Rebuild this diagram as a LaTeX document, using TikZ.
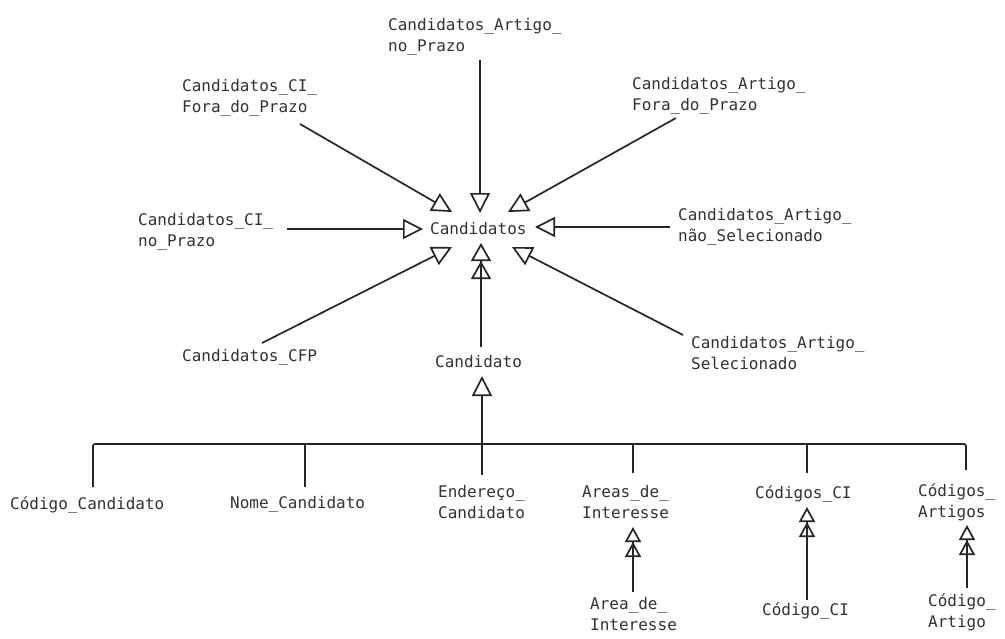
\documentclass[tikz,border=0pt]{standalone}
\usepackage{fontspec}
\newfontfamily\plotfont{DejaVu Sans Mono}
\usetikzlibrary{arrows.meta,calc}
\definecolor{ink}{HTML}{262626}
\definecolor{txt}{HTML}{333333}
\begin{document}
\begin{tikzpicture}[x=1pt,y=-1pt,
  lbl/.style={anchor=north west,inner sep=0pt,align=left,text=txt,font=\plotfont\fontsize{16}{21}\selectfont},
  con/.style={draw=ink,line width=1.7pt},
  tri/.style={con,-{Triangle[open,length=20pt 0,width=20pt 0]}},
  dtri/.style={con,-{Triangle[open,length=18pt 0,width=20pt 0,sep=0pt]Triangle[open,length=18pt 0,width=20pt 0]}},
  stri/.style={con,-{Triangle[open,length=15pt 0,width=16pt 0,sep=0pt]Triangle[open,length=15pt 0,width=16pt 0]}}]
\useasboundingbox[fill=white] (0,0) rectangle (1005,638);

% labels
\node[lbl] (topN)    at (388,18)  {Candidatos\_Artigo\_\\no\_Prazo};
\node[lbl] (ciFora)  at (182,79)  {Candidatos\_CI\_\\Fora\_do\_Prazo};
\node[lbl] (aFora)   at (632,77)  {Candidatos\_Artigo\_\\Fora\_do\_Prazo};
\node[lbl] (ciNo)    at (138,213) {Candidatos\_CI\_\\no\_Prazo};
\node[lbl] (cand)    at (430,222) {Candidatos};
\node[lbl] (aNao)    at (678,208) {Candidatos\_Artigo\_\\não\_Selecionado};
\node[lbl] (cfp)     at (182,349) {Candidatos\_CFP};
\node[lbl] (aSel)    at (691,336) {Candidatos\_Artigo\_\\Selecionado};
\node[lbl] (cato)    at (435,355) {Candidato};
\node[lbl] (codCand) at (10,496)  {Código\_Candidato};
\node[lbl] (nome)    at (230,496) {Nome\_Candidato};
\node[lbl] (ender)   at (438,485) {Endereço\_\\Candidato};
\node[lbl] (areas)   at (582,485) {Areas\_de\_\\Interesse};
\node[lbl] (codsCI)  at (755,485) {Códigos\_CI};
\node[lbl] (codsArt) at (918,483) {Códigos\_\\Artigos};
\node[lbl] (area)    at (590,597) {Area\_de\_\\Interesse};
\node[lbl] (codCI)   at (762,602) {Código\_CI};
\node[lbl] (codArt)  at (928,593) {Código\_\\Artigo};

% connectors into Candidatos
\draw[tri] ($(topN.north west)+(92,42)$)   -- ($(cand.north west)+(50,-9)$);
\draw[tri] ($(ciFora.north west)+(118,45)$) -- ($(cand.north west)+(22,-10)$);
\draw[tri] ($(aFora.north west)+(44,41)$)  -- ($(cand.north west)+(78,-10)$);
\draw[tri] ($(ciNo.north west)+(149,16)$)  -- ($(cand.north west)+(-7,7)$);
\draw[tri] ($(aNao.north west)+(-8,19)$)   -- ($(cand.north west)+(105,5)$);
\draw[tri] ($(cfp.north west)+(80,-6)$)    -- ($(cand.north west)+(22,25)$);
\draw[tri] ($(aSel.north west)+(-8,-1)$)   -- ($(cand.north west)+(82,25)$);
\draw[dtri] ($(cato.north west)+(46,-8)$)  -- ($(cand.north west)+(51,21)$);

% Endereco -> Candidato
\draw[tri] ($(ender.north west)+(44,-10)$) -- ($(cato.north west)+(47,21)$);

% bar with drops
\coordinate (barL) at (93,444);
\coordinate (barR) at (966,444);
\coordinate (codCandTop) at ($(codCand.north west)+(83,-9)$);
\coordinate (codsArtTop) at ($(codsArt.north west)+(48,-13)$);
\coordinate (nomeTop)    at ($(nome.north west)+(75,-9)$);
\coordinate (areasTop)   at ($(areas.north west)+(51,-12)$);
\coordinate (codsCITop)  at ($(codsCI.north west)+(52,-12)$);
\draw[con,rounded corners=2pt] (codCandTop) -- (codCandTop |- barL) -- (barR) -- (codsArtTop);
\draw[con] (nomeTop) -- (nomeTop |- barL);
\draw[con] (areasTop) -- (areasTop |- barL);
\draw[con] (codsCITop) -- (codsCITop |- barL);

% lower double arrows
\draw[stri] ($(area.north west)+(43,-5)$)   -- ($(areas.north west)+(51,42)$);
\draw[stri] ($(codCI.north west)+(45,-2)$)  -- ($(codsCI.north west)+(52,22)$);
\draw[stri] ($(codArt.north west)+(39,-5)$) -- ($(codsArt.north west)+(49,42)$);
\end{tikzpicture}
\end{document}
